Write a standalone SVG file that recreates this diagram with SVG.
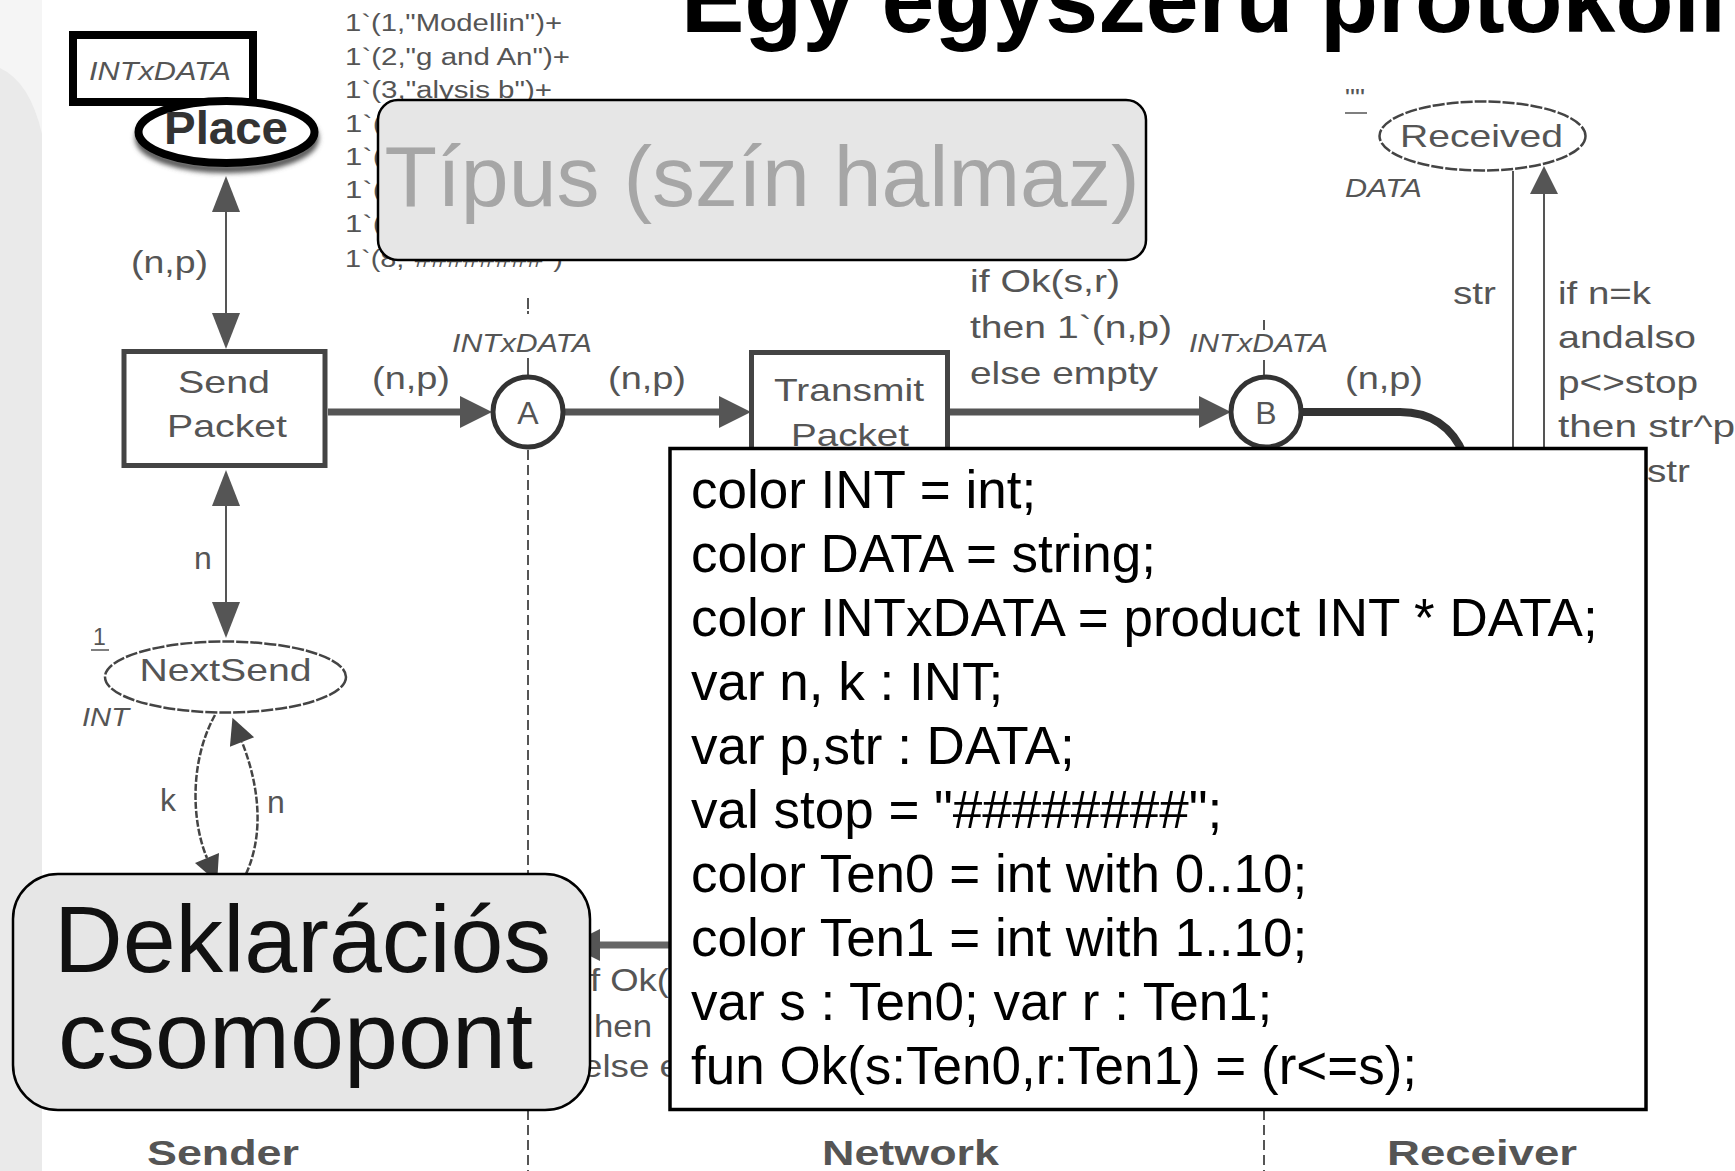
<svg xmlns="http://www.w3.org/2000/svg" width="1735" height="1171" viewBox="0 0 1735 1171">
  <defs>
    <style>
      text { font-family: "Liberation Sans", Arial, sans-serif; }
      .net { fill: #555; font-size: 32px; }
      .ital { fill: #555; font-size: 25px; font-style: italic; }
      .mark { fill: #555; font-size: 23px; }
      .region { fill: #555; font-size: 35px; font-weight: bold; }
      .decl { fill: #000; font-size: 53px; }
      .thin { stroke: #555; stroke-width: 2; fill: none; }
      .thick { stroke: #555; stroke-width: 7; fill: none; }
      .curve { stroke: #444; stroke-width: 2.5; stroke-dasharray: 7 2; fill: none; }
      .sep { stroke: #555; stroke-width: 2; stroke-dasharray: 10 5; fill: none; }
      .place { fill: #fff; stroke: #444; stroke-width: 2.5; stroke-dasharray: 12 2; }
      .trans { fill: #fff; stroke: #444; stroke-width: 5; }
      .port { fill: #fff; stroke: #333; stroke-width: 5; }
      .callout { fill: #e6e6e6; stroke: #000; stroke-width: 2.5; }
    </style>
    <marker id="headThin" markerUnits="userSpaceOnUse" markerWidth="40" markerHeight="30" refX="0" refY="14" orient="auto-start-reverse" overflow="visible">
      <path d="M0,0 L36,14 L0,28 Z" fill="#555"/>
    </marker>
    <marker id="headThick" markerUnits="userSpaceOnUse" markerWidth="34" markerHeight="34" refX="0" refY="16" orient="auto" overflow="visible">
      <path d="M0,0 L32,16 L0,32 Z" fill="#555"/>
    </marker>
    <marker id="headSmall" markerUnits="userSpaceOnUse" markerWidth="30" markerHeight="30" refX="0" refY="14" orient="auto" overflow="visible">
      <path d="M0,0 L28,14 L0,28 Z" fill="#555"/>
    </marker>
    <marker id="headCurve" markerUnits="userSpaceOnUse" markerWidth="30" markerHeight="30" refX="0" refY="13" orient="auto" overflow="visible">
      <path d="M0,0 L26,13 L0,26 Z" fill="#444"/>
    </marker>
    <filter id="soft" x="-20%" y="-30%" width="140%" height="170%">
      <feGaussianBlur stdDeviation="2.5"/>
    </filter>
  </defs>

  <!-- page background with the grey side band -->
  <rect x="0" y="0" width="1735" height="1171" fill="#fff"/>
  <rect x="0" y="0" width="42" height="1171" fill="#f5f5f5"/>
  <path d="M0,68 Q30,82 42,134 L42,1171 L0,1171 Z" fill="#eaeaea"/>

  <!-- region separators -->
  <g id="separators">
    <path class="thin" d="M528,298 L528,309 M528,311 L528,314 M528,358 L528,376"/>
    <path class="sep" d="M528,450 L528,1171"/>
    <path class="thin" d="M1264,320 L1264,330 M1264,360 L1264,376"/>
    <path class="sep" d="M1264,450 L1264,1171"/>
  </g>

  <!-- arcs -->
  <g id="connectors">
    <path class="thin" d="M226,212 L226,313" marker-start="url(#headThin)" marker-end="url(#headThin)"/>
    <path class="thin" d="M226,506 L226,602" marker-start="url(#headThin)" marker-end="url(#headThin)"/>
    <path class="thick" d="M328,412 L460,412" marker-end="url(#headThick)"/>
    <path class="thick" d="M565,412 L719,412" marker-end="url(#headThick)"/>
    <path class="thick" d="M950,412 L1199,412" marker-end="url(#headThick)"/>
    <path d="M1302,412 L1400,412 Q1446,412 1464,455" fill="none" stroke="#333" stroke-width="8"/>
    <path class="thin" d="M1513,171 L1513,460"/>
    <path class="thin" d="M1544,460 L1544,194" marker-end="url(#headSmall)"/>
    <path class="curve" d="M215,715 C190,760 191,820 207,858" marker-end="url(#headCurve)"/>
    <path class="curve" d="M246,874 C266,830 257,780 242,742" marker-end="url(#headCurve)"/>
    <path d="M690,945 L600,945" fill="none" stroke="#666" stroke-width="7" marker-end="url(#headThick)"/>
  </g>

  <!-- Sender side -->
  <g id="send-packet">
    <rect class="trans" x="124" y="351.5" width="201" height="114"/>
    <text class="net" x="178" y="393" textLength="92" lengthAdjust="spacingAndGlyphs">Send</text>
    <text class="net" x="167" y="437" textLength="120" lengthAdjust="spacingAndGlyphs">Packet</text>
  </g>
  <g id="next-send">
    <ellipse class="place" cx="225.5" cy="677" rx="120.5" ry="35.5"/>
    <text class="net" x="139.5" y="681" textLength="172" lengthAdjust="spacingAndGlyphs">NextSend</text>
    <text class="mark" x="93" y="645" font-size="22">1</text>
    <line x1="91" y1="650" x2="109" y2="650" stroke="#555" stroke-width="1.5"/>
    <text class="ital" x="82" y="726" textLength="47" lengthAdjust="spacingAndGlyphs">INT</text>
  </g>
  <g id="send-marking">
    <text class="mark" x="345" y="31" textLength="217" lengthAdjust="spacingAndGlyphs">1`(1,"Modellin")+</text>
    <text class="mark" x="345" y="65" textLength="225" lengthAdjust="spacingAndGlyphs">1`(2,"g and An")+</text>
    <text class="mark" x="345" y="98" textLength="207" lengthAdjust="spacingAndGlyphs">1`(3,"alysis b")+</text>
    <text class="mark" x="345" y="132" textLength="38" lengthAdjust="spacingAndGlyphs">1`(</text>
    <text class="mark" x="345" y="165" textLength="38" lengthAdjust="spacingAndGlyphs">1`(</text>
    <text class="mark" x="345" y="198" textLength="38" lengthAdjust="spacingAndGlyphs">1`(</text>
    <text class="mark" x="345" y="232" textLength="38" lengthAdjust="spacingAndGlyphs">1`(</text>
    <text class="mark" x="345" y="267" textLength="218" lengthAdjust="spacingAndGlyphs">1`(8,"########")</text>
  </g>

  <!-- Network side -->
  <g id="place-a">
    <circle class="port" cx="528" cy="412" r="35"/>
    <text class="net" x="528" y="424" font-size="34" text-anchor="middle">A</text>
    <text class="ital" x="452" y="352" font-size="24" textLength="140" lengthAdjust="spacingAndGlyphs">INTxDATA</text>
  </g>
  <g id="transmit-packet">
    <rect class="trans" x="751.5" y="352.5" width="196" height="114"/>
    <text class="net" x="774" y="401" textLength="150" lengthAdjust="spacingAndGlyphs">Transmit</text>
    <text class="net" x="791" y="446" textLength="118" lengthAdjust="spacingAndGlyphs">Packet</text>
  </g>
  <g id="place-b">
    <circle class="port" cx="1266" cy="412" r="35"/>
    <text class="net" x="1266" y="424" font-size="34" text-anchor="middle">B</text>
    <text class="ital" x="1189" y="352" font-size="24" textLength="139" lengthAdjust="spacingAndGlyphs">INTxDATA</text>
  </g>

  <!-- Receiver side -->
  <g id="received">
    <ellipse class="place" cx="1482.5" cy="136" rx="103" ry="34.5"/>
    <text class="net" x="1400" y="147" textLength="163" lengthAdjust="spacingAndGlyphs">Received</text>
    <text class="mark" x="1345" y="106" font-size="18" textLength="20" lengthAdjust="spacingAndGlyphs">""</text>
    <line x1="1345" y1="113" x2="1367" y2="113" stroke="#555" stroke-width="1.5"/>
    <text class="ital" x="1345" y="197" textLength="77" lengthAdjust="spacingAndGlyphs">DATA</text>
  </g>

  <!-- arc inscriptions -->
  <g id="arc-labels">
    <text class="net" x="131" y="273" textLength="77" lengthAdjust="spacingAndGlyphs">(n,p)</text>
    <text class="net" x="372" y="389" textLength="78" lengthAdjust="spacingAndGlyphs">(n,p)</text>
    <text class="net" x="608" y="389" textLength="78" lengthAdjust="spacingAndGlyphs">(n,p)</text>
    <text class="net" x="1345" y="389" textLength="78" lengthAdjust="spacingAndGlyphs">(n,p)</text>
    <text class="net" x="194" y="569">n</text>
    <text class="net" x="160" y="811">k</text>
    <text class="net" x="267" y="813">n</text>
    <text class="net" x="970" y="292" textLength="150" lengthAdjust="spacingAndGlyphs">if Ok(s,r)</text>
    <text class="net" x="970" y="338" textLength="202" lengthAdjust="spacingAndGlyphs">then 1`(n,p)</text>
    <text class="net" x="970" y="384" textLength="188" lengthAdjust="spacingAndGlyphs">else empty</text>
    <text class="net" x="1453" y="304" textLength="43" lengthAdjust="spacingAndGlyphs">str</text>
    <text class="net" x="1558" y="304" textLength="93" lengthAdjust="spacingAndGlyphs">if n=k</text>
    <text class="net" x="1558" y="348" textLength="138" lengthAdjust="spacingAndGlyphs">andalso</text>
    <text class="net" x="1558" y="393" textLength="140" lengthAdjust="spacingAndGlyphs">p&lt;&gt;stop</text>
    <text class="net" x="1558" y="437" textLength="177" lengthAdjust="spacingAndGlyphs">then str^p</text>
    <text class="net" x="1647" y="482" textLength="43" lengthAdjust="spacingAndGlyphs">str</text>
    <text class="net" x="590" y="991" fill="#666" textLength="79" lengthAdjust="spacingAndGlyphs">f Ok(</text>
    <text class="net" x="594" y="1037" textLength="58" lengthAdjust="spacingAndGlyphs">hen</text>
    <text class="net" x="582" y="1077" textLength="98" lengthAdjust="spacingAndGlyphs">else e</text>
  </g>

  <!-- region names -->
  <g id="regions">
    <text class="region" x="147" y="1165" textLength="152" lengthAdjust="spacingAndGlyphs">Sender</text>
    <text class="region" x="822" y="1165" textLength="177" lengthAdjust="spacingAndGlyphs">Network</text>
    <text class="region" x="1387" y="1165" textLength="190" lengthAdjust="spacingAndGlyphs">Receiver</text>
  </g>

  <!-- callout: colour set and place -->
  <g id="colorset-callout">
    <rect x="73" y="35" width="180" height="67" fill="#fff" stroke="#000" stroke-width="8"/>
    <text class="ital" x="89" y="80" font-size="26" textLength="142" lengthAdjust="spacingAndGlyphs">INTxDATA</text>
  </g>
  <g id="place-callout">
    <ellipse cx="227" cy="138" rx="88" ry="31" fill="none" stroke="#555" stroke-width="8" filter="url(#soft)"/>
    <ellipse cx="226.5" cy="132" rx="88" ry="31" fill="#fff" stroke="#000" stroke-width="8"/>
    <text x="226" y="144" font-size="46" font-weight="bold" fill="#333" text-anchor="middle" textLength="124" lengthAdjust="spacingAndGlyphs">Place</text>
  </g>

  <!-- callout: type -->
  <g id="type-callout">
    <rect class="callout" x="378" y="100" width="768" height="160" rx="20" ry="20"/>
    <text x="762" y="206" font-size="86" fill="#a6a6a6" text-anchor="middle">Típus (szín halmaz)</text>
  </g>

  <!-- declarations -->
  <g id="declarations">
    <rect x="670" y="448.5" width="976" height="661" fill="#fff" stroke="#000" stroke-width="3.5"/>
    <text class="decl" x="691" y="508">color INT = int;</text>
    <text class="decl" x="691" y="572">color DATA = string;</text>
    <text class="decl" x="691" y="636">color INTxDATA = product INT * DATA;</text>
    <text class="decl" x="691" y="700">var n, k : INT;</text>
    <text class="decl" x="691" y="764">var p,str : DATA;</text>
    <text class="decl" x="691" y="828">val stop = "########";</text>
    <text class="decl" x="691" y="892">color Ten0 = int with 0..10;</text>
    <text class="decl" x="691" y="956">color Ten1 = int with 1..10;</text>
    <text class="decl" x="691" y="1020">var s : Ten0; var r : Ten1;</text>
    <text class="decl" x="691" y="1084">fun Ok(s:Ten0,r:Ten1) = (r&lt;=s);</text>
  </g>

  <!-- callout: declaration node -->
  <g id="declaration-callout">
    <rect class="callout" x="13" y="874" width="577" height="236" rx="45" ry="45"/>
    <text x="54" y="972" font-size="94" fill="#111" textLength="497" lengthAdjust="spacingAndGlyphs">Deklarációs</text>
    <text x="58" y="1068" font-size="94" fill="#111" textLength="475" lengthAdjust="spacingAndGlyphs">csomópont</text>
  </g>

  <!-- title -->
  <g id="title">
    <text x="681" y="32" font-size="95" font-weight="bold" fill="#000">Egy egyszerű protokoll</text>
  </g>
</svg>
